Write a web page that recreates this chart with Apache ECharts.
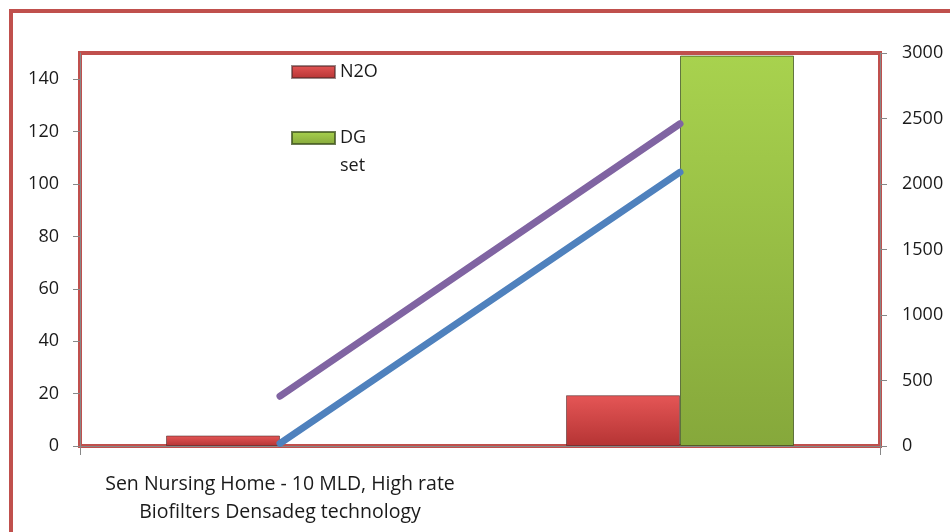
<!DOCTYPE html>
<html>
<head>
<meta charset="utf-8">
<script src="https://cdn.jsdelivr.net/npm/echarts@6/dist/echarts.min.js"></script>
<style>
  html, body { margin: 0; padding: 0; background: #fff; }
  #chart { width: 950px; height: 532px; }
</style>
</head>
<body>
<div id="chart"></div>
<script>
// data
var categories = ['Sen Nursing Home - 10 MLD, High rate\nBiofilters Densadeg technology', 'Indrapuram - 56 MLD, UASB'];
var n2o = [4, 19.4];
var dgSet = [0, 149];
var purpleLine = [380, 2460]; // right axis
var blueLine = [20, 2090];    // right axis
var leftTicks = [0, 20, 40, 60, 80, 100, 120, 140];
var rightTicks = [0, 500, 1000, 1500, 2000, 2500, 3000];

window.onload = () => {
    var myChart = echarts.init(document.getElementById('chart'));
    var font = '"Open Sans", sans-serif';
    var txt = '#1a1a1a';

    function vgrad(top, bottom) {
        return new echarts.graphic.LinearGradient(0, 0, 0, 1, [
            { offset: 0, color: top },
            { offset: 1, color: bottom }
        ]);
    }
    // zero-height bars get no outline
    function barData(arr) {
        return arr.map(function (v) {
            return v === 0 ? { value: v, itemStyle: { borderWidth: 0 } } : v;
        });
    }

    myChart.setOption({
        animation: false,
        textStyle: { fontFamily: font },
        graphic: [{
            type: 'rect', // outer frame
            shape: { x: 11, y: 11, width: 1000, height: 600 },
            style: { fill: 'none', stroke: '#c0504d', lineWidth: 4 },
            silent: true
        }],
        grid: {
            left: 80, right: 70, top: 53, bottom: 86,
            show: true,
            borderColor: '#c0504d',
            borderWidth: 4,
            backgroundColor: '#fff'
        },
        legend: {
            orient: 'vertical',
            left: 291, top: 58,
            padding: 0,
            icon: 'rect',
            itemWidth: 43, itemHeight: 12,
            itemGap: 10,
            data: ['N2O', 'DG set'],
            // blank first line keeps "DG" level with the swatch, "set" wraps below
            formatter: function (name) { return name === 'DG set' ? ' \nDG\nset' : name; },
            textStyle: { fontFamily: font, fontSize: 18, color: txt, lineHeight: 28 }
        },
        xAxis: {
            type: 'category',
            data: categories,
            boundaryGap: true,
            axisLine: { lineStyle: { color: '#888', width: 1 } },
            axisTick: { show: true, length: 9, lineStyle: { color: '#888' } },
            axisLabel: { fontFamily: font, fontSize: 19.5, color: txt, margin: 24, lineHeight: 28 }
        },
        yAxis: [{
            type: 'value',
            min: 0, max: 150, interval: 20,
            axisLine: { show: true, lineStyle: { color: '#888' } },
            axisTick: { show: true, length: 7, lineStyle: { color: '#888' } },
            splitLine: { show: false },
            axisLabel: {
                fontFamily: font, fontSize: 18, color: txt, margin: 21,
                showMaxLabel: false,
                formatter: function (v) { return leftTicks.indexOf(v) >= 0 ? String(v) : ''; }
            }
        }, {
            type: 'value',
            min: 0, max: 3000, interval: 500,
            position: 'right',
            axisLine: { show: true, lineStyle: { color: '#888' } },
            axisTick: { show: true, length: 7, lineStyle: { color: '#888' } },
            splitLine: { show: false },
            axisLabel: {
                fontFamily: font, fontSize: 18, color: txt, margin: 22,
                formatter: function (v) { return rightTicks.indexOf(v) >= 0 ? String(v) : ''; }
            }
        }],
        series: [{
            name: 'N2O',
            type: 'bar',
            barWidth: 114,
            barGap: '0%',
            data: barData(n2o),
            itemStyle: {
                color: vgrad('#e55656', '#b53434'),
                borderColor: 'rgba(70,40,40,0.55)',
                borderWidth: 1
            }
        }, {
            name: 'DG set',
            type: 'bar',
            barWidth: 114,
            barGap: '0%',
            data: barData(dgSet),
            itemStyle: {
                color: vgrad('#a8d24e', '#86a83b'),
                borderColor: 'rgba(60,80,30,0.75)',
                borderWidth: 1
            }
        }, {
            name: 'line1',
            type: 'line',
            yAxisIndex: 1,
            data: purpleLine,
            showSymbol: false,
            lineStyle: { color: '#8064a2', width: 7, cap: 'round' },
            itemStyle: { color: '#8064a2' }
        }, {
            name: 'line2',
            type: 'line',
            yAxisIndex: 1,
            data: blueLine,
            showSymbol: false,
            lineStyle: { color: '#4f81bd', width: 7, cap: 'round' },
            itemStyle: { color: '#4f81bd' }
        }]
    });
};
</script>
</body>
</html>
